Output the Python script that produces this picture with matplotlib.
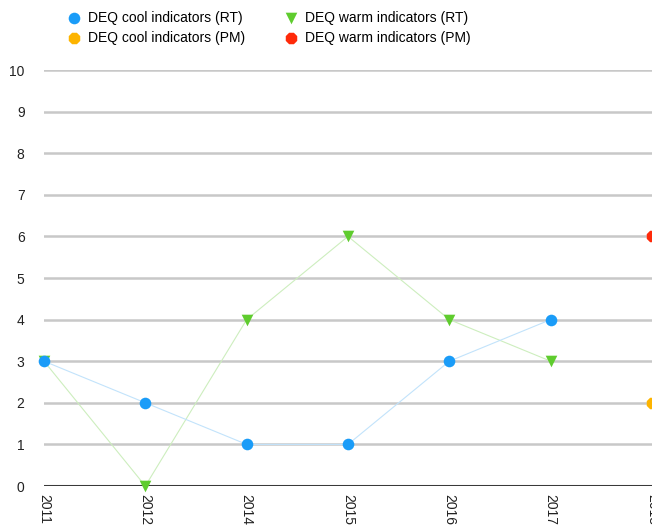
import matplotlib.pyplot as plt

plt.rcParams['font.family'] = ['Liberation Sans', 'DejaVu Sans']

# data
years = ['2011', '2012', '2014', '2015', '2016', '2017', '2018']
cool_rt = [3, 2, 1, 1, 3, 4]
warm_rt = [3, 0, 4, 6, 4, 3]
cool_pm = [2]
warm_pm = [6]

x_rt = list(range(len(cool_rt)))
x_pm = [len(years) - 1]

fig = plt.figure(figsize=(6.52, 5.32), dpi=100)
ax = fig.add_axes([44 / 652, 46 / 532, 1 - 44 / 652, 416 / 532])

ax.plot(x_rt, warm_rt, color='#cdeebe', lw=0.8, zorder=2)
ax.plot(x_rt, cool_rt, color='#c2e3fb', lw=0.8, zorder=2)
ax.scatter(x_rt, warm_rt, marker='v', s=70, color='#5fcc2e', zorder=3,
           clip_on=False, label='DEQ warm indicators (RT)', linewidths=0)
ax.scatter(x_rt, cool_rt, marker='o', s=70, color='#1a9cf8', zorder=4,
           clip_on=False, label='DEQ cool indicators (RT)', linewidths=0)
ax.scatter(x_pm, cool_pm, marker='8', s=80, color='#fdb400', zorder=4,
           clip_on=False, label='DEQ cool indicators (PM)', linewidths=0)
ax.scatter(x_pm, warm_pm, marker='8', s=80, color='#ff2a0a', zorder=4,
           clip_on=False, label='DEQ warm indicators (PM)', linewidths=0)

ax.set_xlim(0, len(years) - 1)
ax.set_ylim(0, 10)
ax.set_yticks(range(0, 11))
ax.set_xticks(range(len(years)))
ax.set_xticklabels(years, rotation=-90, va='top', ha='center')
ax.tick_params(length=0, labelsize=10, colors='#222222')
ax.tick_params(axis='y', pad=14)
ax.tick_params(axis='x', pad=6)

for v in range(1, 11):
    ax.axhline(v, color='#c8c8c8', lw=1.8, zorder=1)
ax.axhline(0, color='#3a3a3a', lw=2.2, zorder=2)

for s in ax.spines.values():
    s.set_visible(False)

h, l = ax.get_legend_handles_labels()
order = [1, 2, 0, 3]
fig.legend([h[i] for i in order], [l[i] for i in order],
           loc='upper left', bbox_to_anchor=(57 / 652, 0.997), ncol=2,
           frameon=False, fontsize=10, handletextpad=0.4, handlelength=1.2,
           columnspacing=2.7, labelspacing=0.45, borderaxespad=0.25,
           markerscale=1.0)

fig.savefig('out.png', dpi=100)
